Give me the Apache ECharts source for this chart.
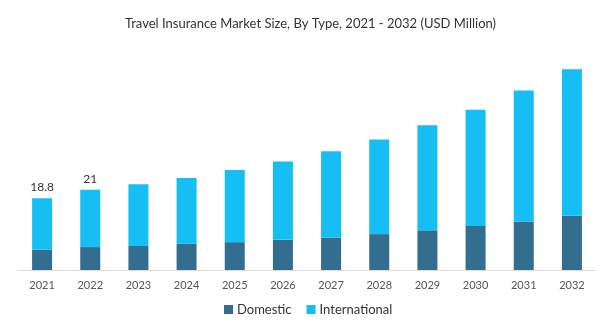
<!DOCTYPE html>
<html>
<head>
<meta charset="utf-8">
<script src="https://cdn.jsdelivr.net/npm/echarts@6/dist/echarts.min.js"></script>
<style>
  html, body { margin: 0; padding: 0; background: #ffffff; }
  #chart { width: 600px; height: 321px; }
</style>
</head>
<body>
<div id="chart"></div>
<script>
// Travel insurance market size by type (USD Million)
const years = ['2021', '2022', '2023', '2024', '2025', '2026', '2027', '2028', '2029', '2030', '2031', '2032'];
const domestic = [5.3, 6.0, 6.3, 6.9, 7.3, 7.9, 8.5, 9.4, 10.4, 11.5, 12.7, 14.2];
const international = [13.5, 15.0, 16.2, 17.2, 18.9, 20.5, 22.6, 24.8, 27.5, 30.5, 34.3, 38.4];
// Years whose total is printed above the stack
const labelledYears = ['2021', '2022'];

const chart = echarts.init(document.getElementById('chart'));

const totalOf = (i) => Math.round((domestic[i] + international[i]) * 10) / 10;

chart.setOption({
  animation: false,
  title: {
    text: 'Travel Insurance Market Size, By Type, 2021 - 2032 (USD Million)',
    left: 120,
    top: 12,
    textStyle: { fontFamily: 'Lato', fontSize: 13, fontWeight: 'normal', color: '#333333' }
  },
  legend: {
    top: 298,
    left: 219,
    itemWidth: 9,
    itemHeight: 9,
    itemGap: 15,
    icon: 'rect',
    textStyle: { fontFamily: 'Lato', fontSize: 13, color: '#333333', padding: [0, 0, 0, -1] },
    data: ['Domestic', 'International']
  },
  grid: { left: 18, right: 4, top: 41, bottom: 51 },
  xAxis: {
    type: 'category',
    data: years,
    axisLine: { lineStyle: { color: '#dddddd', width: 1 } },
    axisTick: { show: false },
    axisLabel: { fontFamily: 'Lato', fontSize: 11, color: '#555555', margin: 10 }
  },
  yAxis: {
    type: 'value',
    min: 0,
    max: 60,
    show: false,
    splitLine: { show: false }
  },
  series: [
    {
      name: 'Domestic',
      type: 'bar',
      stack: 'total',
      barWidth: 20,
      itemStyle: { color: '#336d8f' },
      data: domestic
    },
    {
      name: 'International',
      type: 'bar',
      stack: 'total',
      barWidth: 20,
      itemStyle: { color: '#16bff3' },
      data: international.map((v, i) => ({
        value: v,
        label: {
          show: labelledYears.includes(years[i]),
          position: 'top',
          distance: 5,
          fontFamily: 'Lato',
          fontSize: 12,
          color: '#333333',
          formatter: () => String(totalOf(i))
        }
      }))
    }
  ]
});
</script>
</body>
</html>
